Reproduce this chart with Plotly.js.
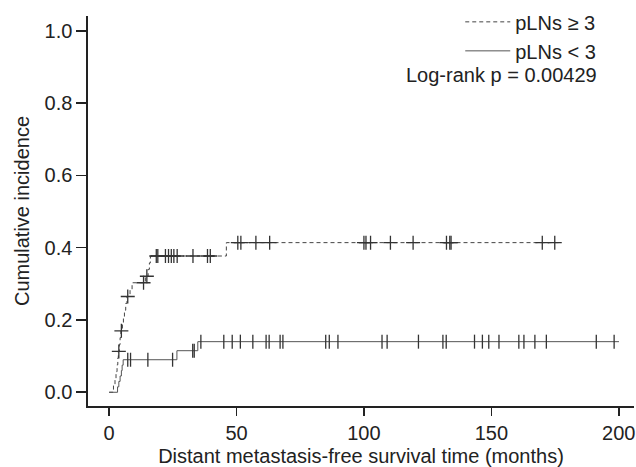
<!DOCTYPE html>
<html>
<head>
<meta charset="utf-8">
<script src="https://cdn.plot.ly/plotly-3.0.1.min.js"></script>
<style>html,body{margin:0;padding:0;background:#fff;}#chart{width:636px;height:467px;}</style>
</head>
<body>
<div id="chart"></div>
<script>
// pLNs >= 3 (dashed): event steps (months, cumulative incidence)
const highTimes = [0, 1.7, 2.3, 2.7, 3.1, 3.4, 3.6, 4.0, 4.3, 4.6, 5.2, 5.6, 6.0, 6.5, 7.0, 8.2, 9.0, 14.2, 15.3, 15.8, 16.2, 46.0];
const highCI    = [0, 0.019, 0.038, 0.057, 0.076, 0.095, 0.113, 0.132, 0.151, 0.170, 0.189, 0.208, 0.227, 0.246, 0.265, 0.284, 0.303, 0.321, 0.340, 0.358, 0.377, 0.414];
const highEnd = 176.6;
const highCensor = [3.8, 4.8, 7.3, 13.5, 14.8, 18.5, 19.1, 22.1, 23.3, 24.4, 25.4, 26.7, 32.9, 38.6, 39.7, 50.5, 51.7, 57.6, 63.0, 100.0, 100.8, 102.6, 110.4, 119.3, 132.4, 133.7, 134.2, 170.0, 174.9];

// pLNs < 3 (solid)
const lowTimes = [0, 3.3, 3.8, 4.3, 4.8, 5.1, 5.5, 26.6, 34.8];
const lowCI    = [0, 0.015, 0.030, 0.045, 0.060, 0.075, 0.090, 0.115, 0.140];
const lowEnd = 200.1;
const lowCensor = [7.3, 8.4, 15.2, 24.9, 32.8, 33.4, 36.0, 45.0, 48.3, 51.5, 56.4, 61.6, 62.8, 67.1, 68.2, 85.0, 86.4, 89.8, 107.1, 109.1, 121.4, 131.0, 132.3, 143.4, 146.5, 149.0, 153.0, 160.8, 162.8, 167.1, 171.6, 191.2, 198.2];

const seriesNames = ['pLNs \u2265 3', 'pLNs < 3'];
const pText = 'Log-rank p = 0.00429';
const xTicks = [0, 50, 100, 150, 200];
const yTicks = [0, 0.2, 0.4, 0.6, 0.8, 1.0];

function stepAt(times, vals, t) {
  let v = vals[0];
  for (let i = 0; i < times.length; i++) { if (times[i] <= t) v = vals[i]; }
  return v;
}

const FONT = 'Liberation Sans, Arial, sans-serif';
const traces = [
  {x: highTimes.concat([highEnd]), y: highCI.concat([highCI[highCI.length-1]]), mode: 'lines', line: {shape: 'hv', color: '#444', width: 1, dash: '4px,3px'}, name: seriesNames[0], hoverinfo: 'skip'},
  {x: lowTimes.concat([lowEnd]), y: lowCI.concat([lowCI[lowCI.length-1]]), mode: 'lines', line: {shape: 'hv', color: '#555', width: 1}, name: seriesNames[1], hoverinfo: 'skip'},
  {x: highCensor, y: highCensor.map(t => stepAt(highTimes, highCI, t)), mode: 'markers', showlegend: false, marker: {symbol: 'cross-thin-open', size: 10, color: '#333', line: {color: '#333', width: 1.3}}},
  {x: lowCensor, y: lowCensor.map(t => stepAt(lowTimes, lowCI, t)), mode: 'markers', showlegend: false, marker: {symbol: 'line-ns-open', size: 10, color: '#333', line: {color: '#333', width: 1.3}}}
];

const layout = {
  width: 636, height: 467,
  margin: {l: 88, r: 2, t: 12, b: 61},
  paper_bgcolor: '#fff', plot_bgcolor: '#fff',
  font: {family: FONT, size: 20, color: '#222'},
  showlegend: true,
  legend: {x: 0.94, xanchor: 'right', y: 1.035, yanchor: 'top', bgcolor: 'rgba(0,0,0,0)', font: {family: FONT, size: 20, color: '#222'}, itemwidth: 45, tracegroupgap: 0},
  xaxis: {range: [-8.3, 206], tickvals: xTicks, ticktext: xTicks.map(String), showgrid: false, zeroline: false, showline: true, linecolor: '#222', linewidth: 1.6, ticks: 'outside', ticklen: 8, tickwidth: 1.6, tickcolor: '#222', title: {text: 'Distant metastasis-free survival time (months)', font: {family: FONT, size: 20, color: '#222'}, standoff: 6}},
  yaxis: {range: [-0.038, 1.041], tickvals: yTicks, ticktext: yTicks.map(v => v.toFixed(1)), showgrid: false, zeroline: false, showline: true, linecolor: '#222', linewidth: 1.6, ticks: 'outside', ticklen: 10, tickwidth: 1.6, tickcolor: '#222', title: {text: 'Cumulative incidence', font: {family: FONT, size: 20, color: '#222'}, standoff: 9}},
  annotations: [{text: pText, xref: 'paper', yref: 'paper', x: 0.936, y: 0.848, xanchor: 'right', yanchor: 'middle', showarrow: false, font: {family: FONT, size: 20, color: '#222'}}]
};

Plotly.newPlot('chart', traces, layout, {displayModeBar: false, staticPlot: true});
</script>
</body>
</html>
